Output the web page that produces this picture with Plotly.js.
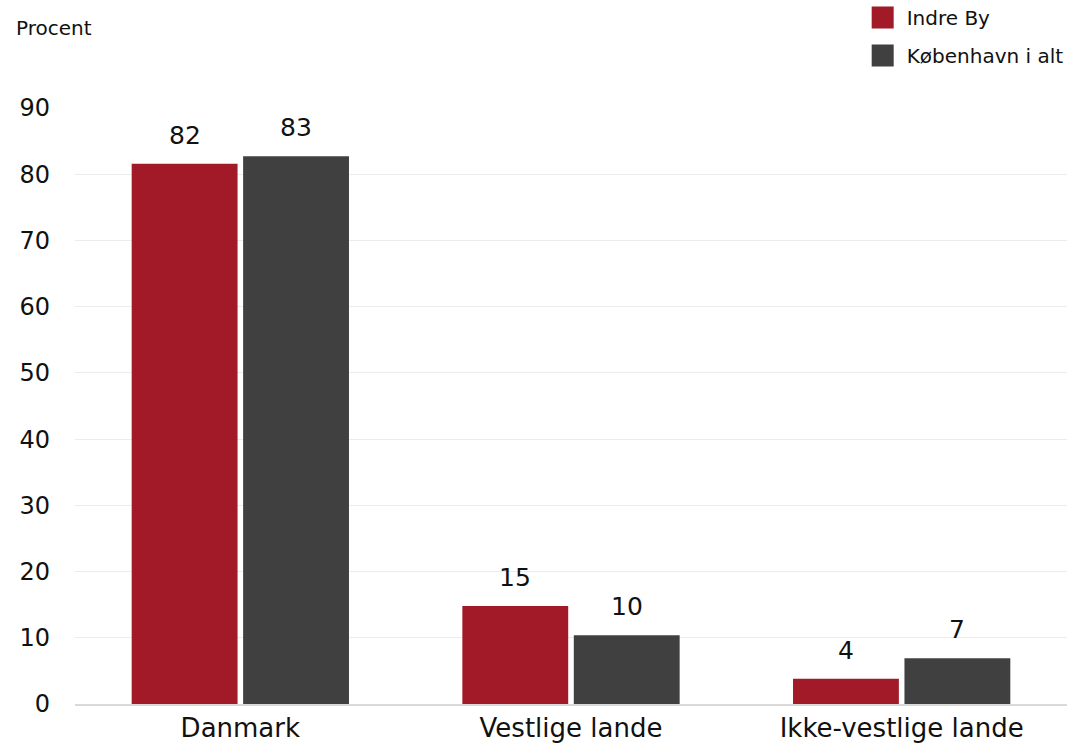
<!DOCTYPE html>
<html>
<head>
<meta charset="utf-8">
<script src="https://cdn.plot.ly/plotly-3.0.1.min.js"></script>
<style>
html,body{margin:0;padding:0;background:#fff;}
#chart{width:1073px;height:753px;}
#chart .legend .legendpoints path{d:path("M11,11H-11V-11H11Z");}
</style>
</head>
<body>
<div id="chart"></div>
<script>
const categories = ["Danmark", "Vestlige lande", "Ikke-vestlige lande"];
const indreBy = [81.6, 14.8, 3.8];
const kbhIAlt = [82.7, 10.4, 6.9];
const indreByLabels = ["82", "15", "4"];
const kbhLabels = ["83", "10", "7"];
const seriesNames = ["Indre By", "København i alt"];
const seriesColors = ["#a21927", "#404040"];
const yTicks = [0, 10, 20, 30, 40, 50, 60, 70, 80, 90];

const FONT = "'DejaVu Sans', sans-serif";
const BARGAP = 0.326;

const traces = [
  {
    type: "bar", name: seriesNames[0], x: categories, y: indreBy, legendgroup: "a",
    marker: {color: seriesColors[0]}, hoverinfo: "none"
  },
  {
    type: "bar", name: seriesNames[1], x: categories, y: kbhIAlt, legendgroup: "b",
    marker: {color: seriesColors[1]}, hoverinfo: "none"
  }
];

// value labels above each bar, positioned in data coordinates
const half = (1 - BARGAP) / 4;
const annotations = [];
[[indreBy, indreByLabels, -half], [kbhIAlt, kbhLabels, half]].forEach(([vals, labels, off]) => {
  vals.forEach((v, i) => {
    annotations.push({
      xref: "x", yref: "y", x: i + off, y: v, text: labels[i],
      xanchor: "center", yanchor: "bottom", yshift: 12, showarrow: false,
      font: {family: FONT, size: 25, color: "#111"}
    });
  });
});
annotations.push({
  text: "Procent", xref: "paper", yref: "paper", x: -0.061, y: 1.134,
  xanchor: "left", yanchor: "middle", showarrow: false,
  font: {family: FONT, size: 20, color: "#111"}
});

const layout = {
  width: 1073, height: 753,
  margin: {l: 75, r: 6, t: 108, b: 49, autoexpand: false},
  paper_bgcolor: "#fff", plot_bgcolor: "#fff",
  font: {family: FONT, color: "#111", size: 22},
  barmode: "group", bargap: BARGAP, bargroupgap: 0.05,
  showlegend: true,
  legend: {
    x: 0.79, xanchor: "left", y: 1.1846, yanchor: "top", yref: "paper",
    orientation: "v", font: {family: FONT, size: 20, color: "#111"},
    tracegroupgap: 9, traceorder: "grouped", itemwidth: 38, bgcolor: "rgba(0,0,0,0)"
  },
  xaxis: {
    type: "category", showgrid: false, showline: true, linecolor: "#d9d9d9", linewidth: 2,
    ticks: "", tickfont: {family: FONT, size: 26, color: "#111"}
  },
  yaxis: {
    range: [0, 90], tickvals: yTicks, showgrid: true, gridcolor: "#ececec", gridwidth: 1,
    zeroline: false, showline: false, ticks: "", ticklabelstandoff: 24,
    tickfont: {family: FONT, size: 24, color: "#111"}
  },
  annotations: annotations
};

Plotly.newPlot("chart", traces, layout, {displayModeBar: false, staticPlot: true});
</script>
</body>
</html>
